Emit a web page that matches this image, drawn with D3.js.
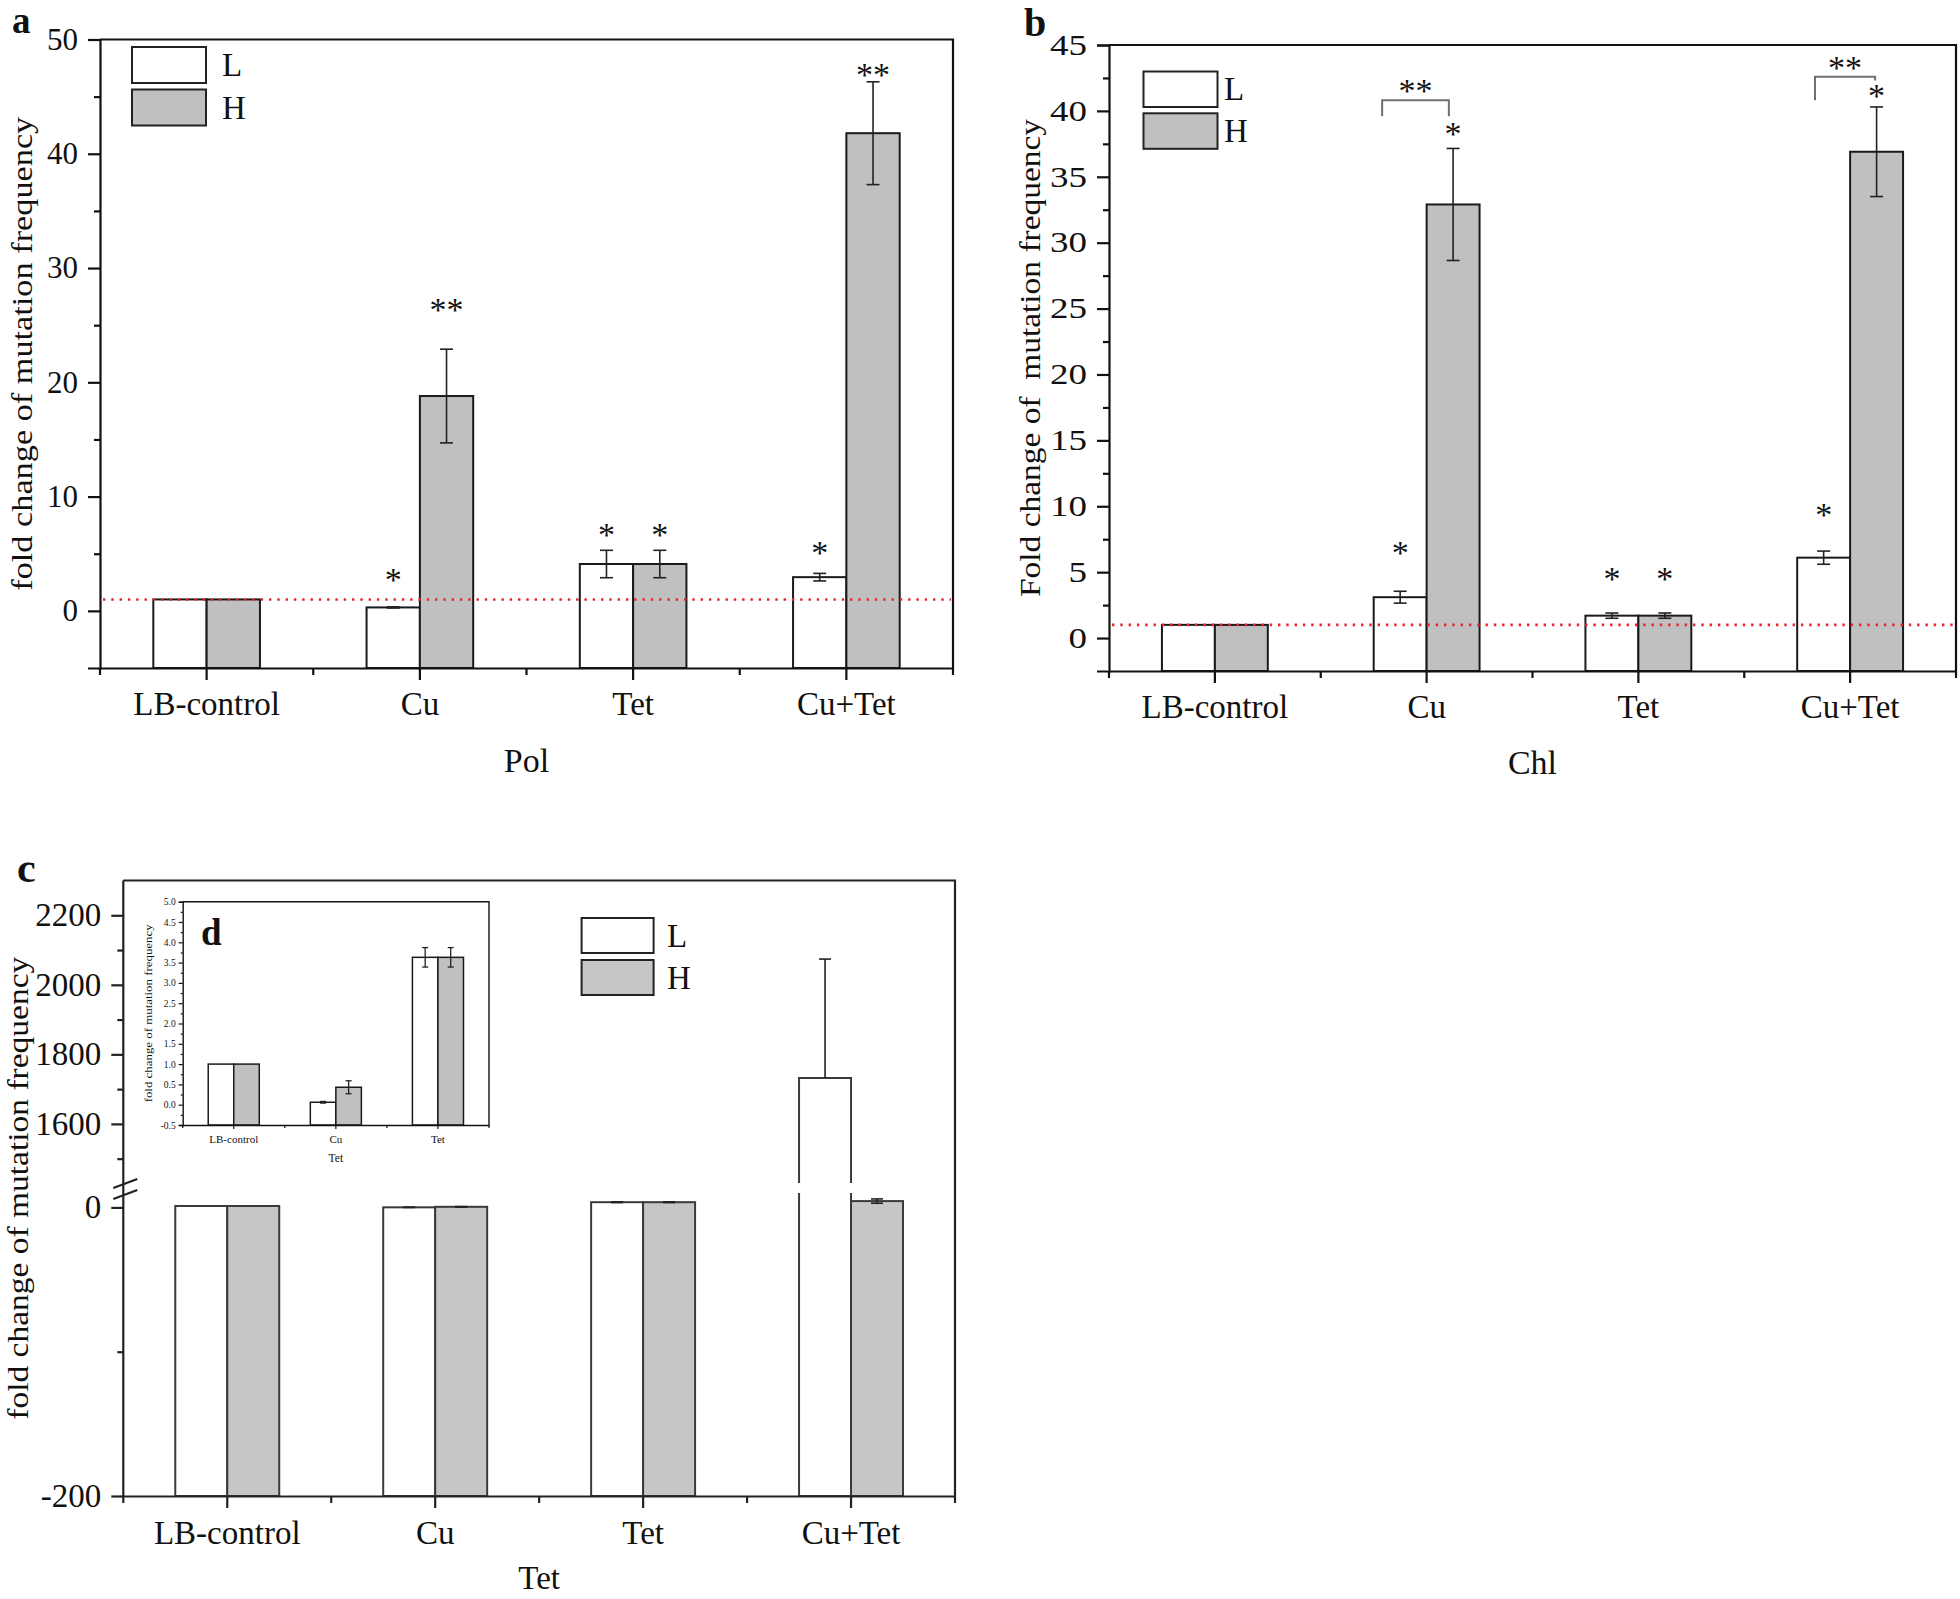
<!DOCTYPE html>
<html>
<head>
<meta charset="utf-8">
<script src="https://cdn.jsdelivr.net/npm/d3@7"></script>
<style>
  html, body { margin: 0; padding: 0; background: #fff; }
  svg { display: block; }
  text { font-family: "Liberation Serif", "Times New Roman", serif; fill: #111; }
</style>
</head>
<body>
<svg id="fig" width="1960" height="1599"></svg>
<script>
// ---------------- DATA ----------------
const categories = ["LB-control", "Cu", "Tet", "Cu+Tet"];
const seriesNames = ["L", "H"];

// Panel a (Pol)
const polL    = [1, 0.3, 4.1, 2.95];
const polLErr = [0, 0.05, 1.2, 0.33];
const polH    = [1, 18.8, 4.1, 41.8];
const polHErr = [0, 4.1, 1.2, 4.5];
const polTicks = [0, 10, 20, 30, 40, 50];
const polMinor = [5, 15, 25, 35, 45];
// significance marks: [category, series, label, value level]
const polStars = [
  ["Cu", "L", "*", 3.1], ["Cu", "H", "**", 26.8],
  ["Tet", "L", "*", 7.1], ["Tet", "H", "*", 7.1],
  ["Cu+Tet", "L", "*", 5.5], ["Cu+Tet", "H", "**", 47.3]
];

// Panel b (Chl)
const chlL    = [1, 3.1, 1.7, 6.1];
const chlLErr = [0, 0.45, 0.2, 0.5];
const chlH    = [1, 32.9, 1.7, 36.9];
const chlHErr = [0, 4.25, 0.2, 3.4];
const chlTicks = [0, 5, 10, 15, 20, 25, 30, 35, 40, 45];
const chlMinor = [2.5, 7.5, 12.5, 17.5, 22.5, 27.5, 32.5, 37.5, 42.5];
const chlStars = [
  ["Cu", "L", "*", 6.8], ["Cu", "H", "*", 38.6],
  ["Tet", "L", "*", 4.85], ["Tet", "H", "*", 4.85],
  ["Cu+Tet", "L", "*", 9.7], ["Cu+Tet", "H", "*", 41.5]
];
// brackets: [category, top level, left leg end, right leg end, label, label level]
const chlBrackets = [
  ["Cu", 40.8, 39.6, 39.6, "**", 41.85],
  ["Cu+Tet", 42.6, 40.8, 42.3, "**", 43.6]
];

// Panel c (Tet) with broken axis
const tetL    = [1, 0.06, 3.63, 1732];
const tetLErr = [0, 0.02, 0.24, 342];
const tetH    = [1, 0.43, 3.63, 4.4];
const tetHErr = [0, 0.16, 0.24, 1.5];
const tetLowDomain = [-200, 10];
const tetUpDomain = [1430, 2300];
const tetTicksLow = [-200, 0];
const tetMinorLow = [-100];
const tetTicksUp = [1600, 1800, 2000, 2200];
const tetMinorUp = [1500, 1700, 1900, 2100];

// Inset d
const insetCategories = ["LB-control", "Cu", "Tet"];
const insetL    = [1, 0.06, 3.63];
const insetLErr = [0, 0.02, 0.24];
const insetH    = [1, 0.43, 3.63];
const insetHErr = [0, 0.16, 0.24];
const insetTicks = [-0.5, 0, 0.5, 1, 1.5, 2, 2.5, 3, 3.5, 4, 4.5, 5];

const refLevel = 1;

// ---------------- DRAW ----------------
const svg = d3.select("#fig");
const FONT = "'Liberation Serif', 'Times New Roman', serif";
const GRAY = "#c0c0c0";
const intFmt = d => String(d);               // ASCII hyphen for negatives
const oneDec = d => d.toFixed(1);

function rows(L, LE, H, HE, cats) {
  return cats.map((c, i) => ({cat: c, L: L[i], LE: LE[i], H: H[i], HE: HE[i]}));
}

function drawPanel(cfg) {
  const g = svg.append("g");
  const x = d3.scaleBand().domain(cfg.cats).range([cfg.left, cfg.right]).padding(0);
  const y = d3.scaleLinear().domain(cfg.domain).range([cfg.bottom, cfg.top]);
  const bw = x.bandwidth() / 4;
  const data = cfg.data;

  seriesNames.forEach((s, si) => {
    g.selectAll(null).data(data).enter().append("rect")
      .attr("x", d => x(d.cat) + bw * (1 + si))
      .attr("y", d => y(d[s]))
      .attr("width", bw)
      .attr("height", d => cfg.bottom - y(d[s]))
      .attr("fill", si === 0 ? "#fff" : GRAY)
      .attr("stroke", "#1a1a1a").attr("stroke-width", cfg.barStroke);
  });
  seriesNames.forEach((s, si) => {
    const eb = data.filter(d => d[s + "E"] > 0);
    const cx = d => x(d.cat) + bw * (1.5 + si);
    g.selectAll(null).data(eb).enter().append("line")
      .attr("x1", cx).attr("x2", cx)
      .attr("y1", d => y(d[s] - d[s + "E"])).attr("y2", d => y(d[s] + d[s + "E"]))
      .attr("stroke", "#222").attr("stroke-width", cfg.errStroke);
    [1, -1].forEach(sign => {
      g.selectAll(null).data(eb).enter().append("line")
        .attr("x1", d => cx(d) - cfg.cap / 2).attr("x2", d => cx(d) + cfg.cap / 2)
        .attr("y1", d => y(d[s] + sign * d[s + "E"])).attr("y2", d => y(d[s] + sign * d[s + "E"]))
        .attr("stroke", "#222").attr("stroke-width", cfg.errStroke);
    });
  });

  if (cfg.refLine) {
    g.append("line").attr("x1", cfg.left + 3).attr("x2", cfg.right - 2)
      .attr("y1", y(refLevel)).attr("y2", y(refLevel))
      .attr("stroke", "#e8262b").attr("stroke-width", 2.6)
      .attr("stroke-dasharray", "2.4 5.9");
  }

  g.append("path")
    .attr("d", `M${cfg.left},${cfg.top}H${cfg.right}V${cfg.bottom}`)
    .attr("fill", "none").attr("stroke", "#111").attr("stroke-width", cfg.axisStroke);

  const yAxis = d3.axisLeft(y).tickValues(cfg.ticks).tickSize(cfg.majorLen).tickPadding(cfg.tickPad)
    .tickFormat(cfg.yFormat || intFmt);
  const ya = g.append("g").attr("transform", `translate(${cfg.left},0)`).call(yAxis);
  ya.select(".domain").attr("stroke", "#111").attr("stroke-width", cfg.axisStroke);
  ya.selectAll(".tick line").attr("stroke", "#111").attr("stroke-width", cfg.tickStroke);
  ya.selectAll(".tick text").attr("font-family", FONT).attr("font-size", cfg.yTickFont)
    .attr("fill", cfg.textFill || "#111");
  if (cfg.yTickCharW) {
    ya.selectAll(".tick text").each(function () {
      const t = d3.select(this);
      t.attr("textLength", t.text().length * cfg.yTickCharW).attr("lengthAdjust", "spacingAndGlyphs");
    });
  }
  const yMinor = d3.axisLeft(y).tickValues(cfg.minor).tickSize(cfg.minorLen).tickFormat("");
  const ym = g.append("g").attr("transform", `translate(${cfg.left},0)`).call(yMinor);
  ym.select(".domain").remove();
  ym.selectAll(".tick line").attr("stroke", "#111").attr("stroke-width", cfg.tickStroke);

  const xAxis = d3.axisBottom(x).tickSize(cfg.majorLen).tickPadding(cfg.xPad).tickSizeOuter(0);
  const xa = g.append("g").attr("transform", `translate(0,${cfg.bottom})`).call(xAxis);
  xa.select(".domain").attr("stroke", "#111").attr("stroke-width", cfg.axisStroke);
  xa.selectAll(".tick line").attr("stroke", "#111").attr("stroke-width", cfg.tickStroke);
  xa.selectAll(".tick text").attr("font-family", FONT).attr("font-size", cfg.xTickFont)
    .attr("fill", cfg.textFill || "#111");
  const edges = cfg.cats.map(c => x(c)).concat([cfg.right]);
  g.selectAll(null).data(edges).enter().append("line")
    .attr("x1", d => d).attr("x2", d => d)
    .attr("y1", cfg.bottom).attr("y2", cfg.bottom + cfg.minorLen + 1)
    .attr("stroke", "#111").attr("stroke-width", cfg.tickStroke);

  g.append("text").attr("x", (cfg.left + cfg.right) / 2).attr("y", cfg.xTitleY)
    .attr("text-anchor", "middle").attr("font-size", cfg.xTitleFont || cfg.titleFont)
    .attr("fill", cfg.textFill || "#111").text(cfg.xTitle);
  const yt = g.append("text")
    .attr("transform", `translate(${cfg.yTitleX},${(cfg.top + cfg.bottom) / 2}) rotate(-90)`)
    .attr("text-anchor", "middle").attr("dominant-baseline", "central")
    .attr("font-size", cfg.titleFont).attr("fill", cfg.textFill || "#111")
    .style("white-space", "pre").text(cfg.yTitle);
  if (cfg.yTitleLen) yt.attr("textLength", cfg.yTitleLen).attr("lengthAdjust", "spacingAndGlyphs");

  if (cfg.stars) {
    g.selectAll(null).data(cfg.stars).enter().append("text")
      .attr("x", d => x(d[0]) + bw * (d[1] === "L" ? 1.5 : 2.5))
      .attr("y", d => y(d[3]) + 0.47 * 34)
      .attr("text-anchor", "middle").attr("font-size", 34).text(d => d[2]);
  }
  return {g, x, y, bw};
}

function legend(x0, y0, boxW, boxH, gap, textX, fill2) {
  const g = svg.append("g");
  seriesNames.forEach((s, i) => {
    const yy = y0 + i * (boxH + gap);
    g.append("rect").attr("x", x0).attr("y", yy).attr("width", boxW).attr("height", boxH)
      .attr("fill", i === 0 ? "#fff" : fill2).attr("stroke", "#222").attr("stroke-width", 2);
    g.append("text").attr("x", textX).attr("y", yy + boxH / 2 + 11)
      .attr("font-size", 33).text(s);
  });
}

// ---- Panel a ----
const common = {
  cats: categories, barStroke: 2, errStroke: 1.6, cap: 13, axisStroke: 2.2, tickStroke: 2.2,
  majorLen: 12, minorLen: 6, tickPad: 10, xPad: 12, yTickFont: 31, xTickFont: 33,
  titleFont: 30, xTitleFont: 34, refLine: true
};
drawPanel(Object.assign({}, common, {
  left: 100, right: 953, top: 39.5, bottom: 668, domain: [-5, 50],
  data: rows(polL, polLErr, polH, polHErr, categories),
  ticks: polTicks, minor: polMinor, stars: polStars,
  xTitle: "Pol", xTitleY: 772, yTitle: "fold change of mutation frequency", yTitleX: 21, yTitleLen: 474
}));
legend(132, 47, 74, 36, 6.5, 222, GRAY);
svg.append("text").attr("x", 12).attr("y", 33).attr("font-size", 37).attr("font-weight", "bold").text("a");

// ---- Panel b ----
const pb = drawPanel(Object.assign({}, common, {
  left: 1109, right: 1956, top: 45, bottom: 671, domain: [-2.5, 45],
  data: rows(chlL, chlLErr, chlH, chlHErr, categories),
  ticks: chlTicks, minor: chlMinor, stars: chlStars, yTickFont: 29, yTickCharW: 18.5,
  xTitle: "Chl", xTitleY: 774, yTitle: "Fold change of  mutation frequency", yTitleX: 1029, yTitleLen: 478
}));
{
  const bx = pb.x, by = pb.y, bw = pb.bw;
  const offs = {"Cu": [0.29, 0.605], "Cu+Tet": [0.334, 0.618]};
  chlBrackets.forEach(b => {
    const x0 = bx(b[0]) + offs[b[0]][0] * bw * 4, x1 = bx(b[0]) + offs[b[0]][1] * bw * 4;
    pb.g.append("path")
      .attr("d", `M${x0},${by(b[2])}V${by(b[1])}H${x1}V${by(b[3])}`)
      .attr("fill", "none").attr("stroke", "#707070").attr("stroke-width", 2);
    pb.g.append("text").attr("x", (x0 + x1) / 2).attr("y", by(b[5]) + 0.47 * 34)
      .attr("text-anchor", "middle").attr("font-size", 34).text(b[4]);
  });
}
legend(1143.5, 71.5, 74, 35.5, 6.3, 1224, GRAY);
svg.append("text").attr("x", 1024).attr("y", 36).attr("font-size", 40).attr("font-weight", "bold").text("b");

// ---- Panel c (broken axis) ----
{
  const left = 123.3, right = 955, top = 880.5, bottom = 1496;
  const lowTop = 1193, upBottom = 1183;
  const g = svg.append("g");
  const x = d3.scaleBand().domain(categories).range([left, right]).padding(0);
  const yLow = d3.scaleLinear().domain(tetLowDomain).range([bottom, lowTop]);
  const yUp = d3.scaleLinear().domain(tetUpDomain).range([upBottom, top]);
  const bw = x.bandwidth() / 4;
  const fillC = "#c6c6c6";
  const strokeC = "#3a3a3a";
  const data = rows(tetL, tetLErr, tetH, tetHErr, categories);
  const yv = v => v > tetLowDomain[1] ? yUp(v) : yLow(v);

  seriesNames.forEach((s, si) => {
    data.forEach(d => {
      const v = d[s];
      const x0 = x(d.cat) + bw * (1 + si), x1 = x0 + bw;
      const fill = si === 0 ? "#fff" : fillC;
      if (v <= tetLowDomain[1]) {
        g.append("rect").attr("x", x0).attr("y", yLow(v)).attr("width", bw)
          .attr("height", bottom - yLow(v)).attr("fill", fill)
          .attr("stroke", strokeC).attr("stroke-width", 2);
      } else {
        g.append("rect").attr("x", x0).attr("y", yUp(v)).attr("width", bw)
          .attr("height", bottom - yUp(v)).attr("fill", fill).attr("stroke", "none");
        g.append("path").attr("d", `M${x0},${upBottom}V${yUp(v)}H${x1}V${upBottom}`)
          .attr("fill", "none").attr("stroke", strokeC).attr("stroke-width", 2);
        g.append("path").attr("d", `M${x0},${lowTop}V${bottom}H${x1}V${lowTop}`)
          .attr("fill", "none").attr("stroke", strokeC).attr("stroke-width", 2);
      }
    });
  });
  seriesNames.forEach((s, si) => {
    data.filter(d => d[s + "E"] > 0).forEach(d => {
      const cx = x(d.cat) + bw * (1.5 + si);
      const v = d[s], e = d[s + "E"];
      const broken = v > tetLowDomain[1];
      const yTop = yv(v + e), yBot = broken ? yv(v) : yv(v - e);
      g.append("line").attr("x1", cx).attr("x2", cx).attr("y1", yBot).attr("y2", yTop)
        .attr("stroke", "#222").attr("stroke-width", 1.6);
      const caps = broken ? [yTop] : [yTop, yBot];
      caps.forEach(cy => g.append("line").attr("x1", cx - 6).attr("x2", cx + 6)
        .attr("y1", cy).attr("y2", cy).attr("stroke", "#222").attr("stroke-width", 1.6));
    });
  });

  g.append("path").attr("d", `M${left},${top}H${right}V${bottom}`)
    .attr("fill", "none").attr("stroke", "#222").attr("stroke-width", 2.2);
  g.append("line").attr("x1", left).attr("x2", left).attr("y1", top).attr("y2", bottom)
    .attr("stroke", "#222").attr("stroke-width", 2.2);

  function yAx(scale, ticks, minor) {
    const a = g.append("g").attr("transform", `translate(${left},0)`)
      .call(d3.axisLeft(scale).tickValues(ticks).tickSize(12).tickPadding(10).tickFormat(intFmt));
    a.select(".domain").remove();
    a.selectAll(".tick line").attr("stroke", "#222").attr("stroke-width", 2.2);
    a.selectAll(".tick text").attr("font-family", FONT).attr("font-size", 33).attr("fill", "#111");
    const m = g.append("g").attr("transform", `translate(${left},0)`)
      .call(d3.axisLeft(scale).tickValues(minor).tickSize(6).tickFormat(""));
    m.select(".domain").remove();
    m.selectAll(".tick line").attr("stroke", "#222").attr("stroke-width", 2.2);
  }
  yAx(yUp, tetTicksUp, tetMinorUp);
  yAx(yLow, tetTicksLow, tetMinorLow);
  [[1188, 1179], [1199, 1190]].forEach(p => {
    g.append("line").attr("x1", left - 10).attr("y1", p[0]).attr("x2", left + 14).attr("y2", p[1])
      .attr("stroke", "#222").attr("stroke-width", 2.2);
  });

  const xa = g.append("g").attr("transform", `translate(0,${bottom})`)
    .call(d3.axisBottom(x).tickSize(12).tickPadding(13).tickSizeOuter(0));
  xa.select(".domain").attr("stroke", "#222").attr("stroke-width", 2.2);
  xa.selectAll(".tick line").attr("stroke", "#222").attr("stroke-width", 2.2);
  xa.selectAll(".tick text").attr("font-family", FONT).attr("font-size", 33).attr("fill", "#111");
  const edges = categories.map(c => x(c)).concat([right]);
  g.selectAll(null).data(edges).enter().append("line")
    .attr("x1", d => d).attr("x2", d => d).attr("y1", bottom).attr("y2", bottom + 7)
    .attr("stroke", "#222").attr("stroke-width", 2.2);

  g.append("text").attr("x", (left + right) / 2).attr("y", 1589).attr("text-anchor", "middle")
    .attr("font-size", 33).text("Tet");
  g.append("text").attr("transform", `translate(17,${(top + bottom) / 2}) rotate(-90)`)
    .attr("text-anchor", "middle").attr("dominant-baseline", "central")
    .attr("font-size", 30).attr("textLength", 463).attr("lengthAdjust", "spacingAndGlyphs")
    .text("fold change of mutation frequency");

  legend(581.6, 918, 72, 35, 7, 667, fillC);
  svg.append("text").attr("x", 17).attr("y", 882).attr("font-size", 42).attr("font-weight", "bold").text("c");
}

// ---- Inset d ----
{
  svg.append("rect").attr("x", 182.7).attr("y", 901.7).attr("width", 306.3).attr("height", 223.3).attr("fill", "#fff");
  drawPanel({
    cats: insetCategories, left: 182.7, right: 489, top: 901.7, bottom: 1125, domain: [-0.5, 5.0],
    data: rows(insetL, insetLErr, insetH, insetHErr, insetCategories),
    ticks: insetTicks, minor: insetTicks.map(t => t + 0.25).filter(t => t < 5),
    yFormat: oneDec,
    barStroke: 1.5, errStroke: 1.3, cap: 6, axisStroke: 1.4, tickStroke: 1.2,
    majorLen: 4, minorLen: 2, tickPad: 3, xPad: 6, yTickFont: 9.5, xTickFont: 11, titleFont: 11,
    xTitleFont: 11.5, textFill: "#333", refLine: false,
    xTitle: "Tet", xTitleY: 1162, yTitle: "fold change of mutation frequency", yTitleX: 147.5, yTitleLen: 178
  });
  svg.append("text").attr("x", 201).attr("y", 945).attr("font-size", 37).attr("font-weight", "bold").text("d");
}
</script>
</body>
</html>
